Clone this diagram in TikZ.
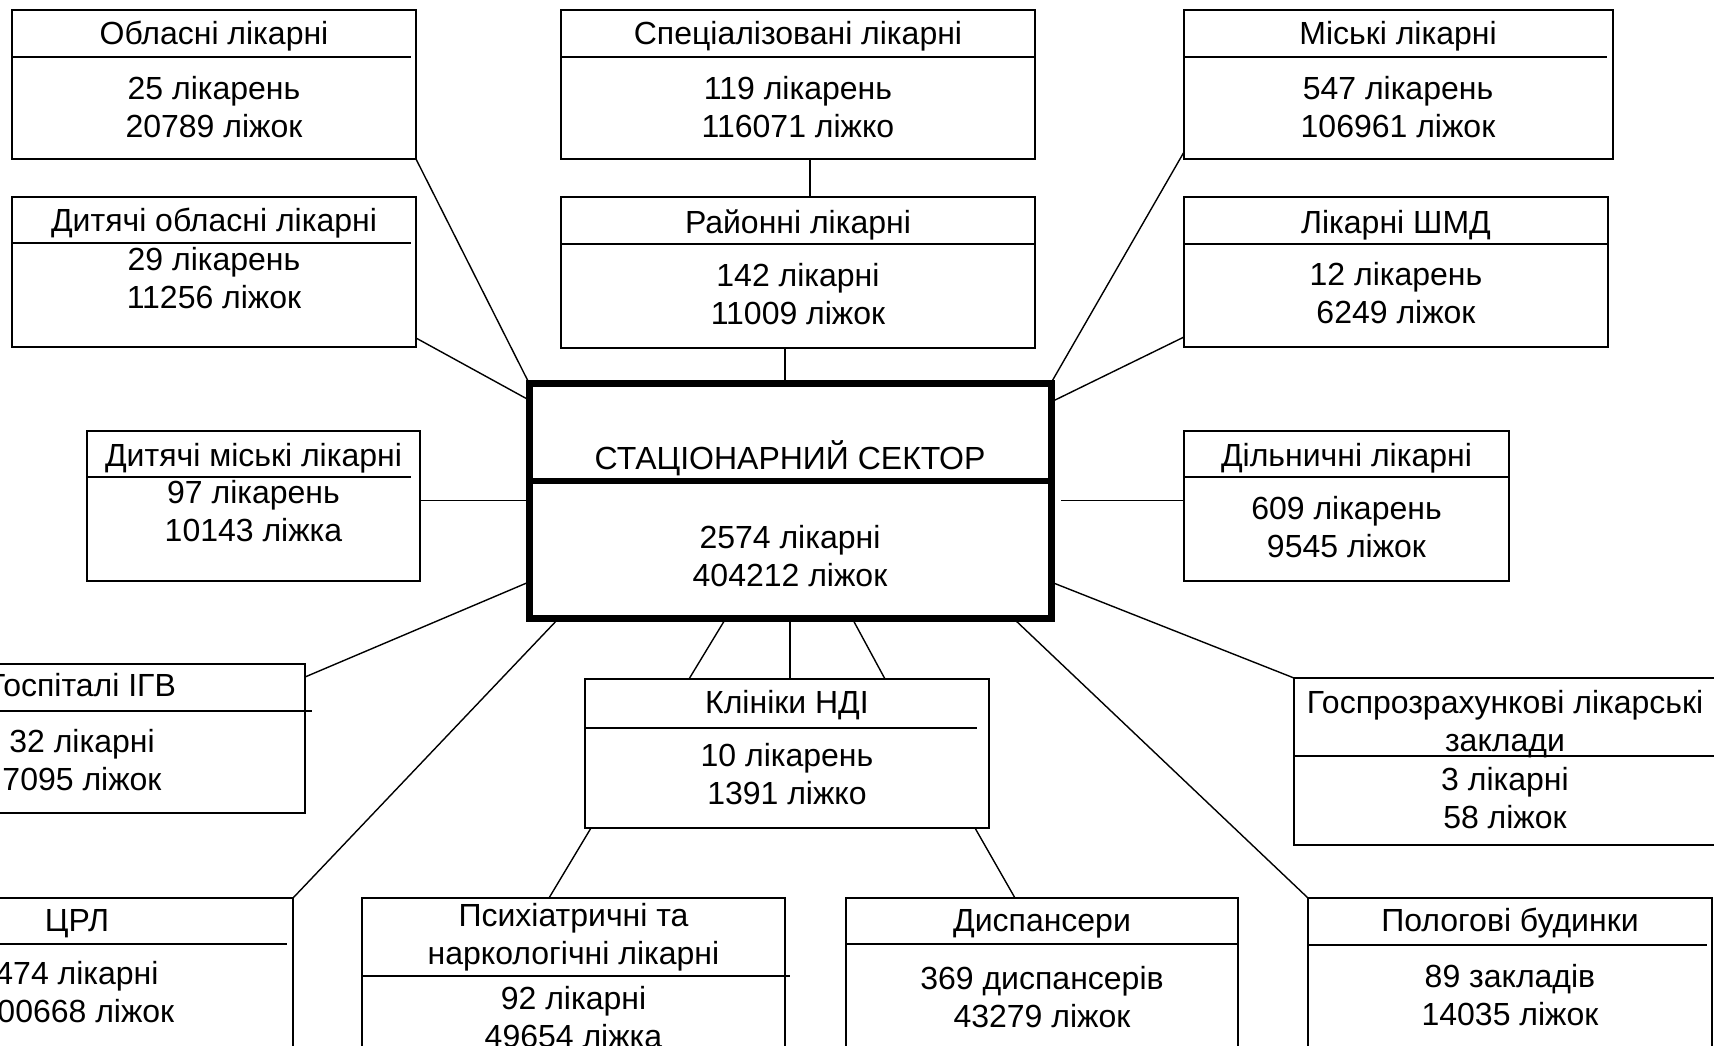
\documentclass[tikz,border=0pt]{standalone}
\usepackage{fontspec}
\setmainfont{Liberation Sans}
\tikzset{
  every picture/.style={font=\fontsize{16}{19}\selectfont},
  ward box/.style={draw, line width=1.3pt, inner sep=0pt, outer sep=0pt},
  ward hub/.style={draw, line width=3.5pt, inner sep=0pt, outer sep=0pt},
  ward rule/.style={line width=0.9pt},
  ward text/.style={anchor=base, align=center, inner sep=0pt},
  ward link/.style={line width=0.7pt}
}

\begin{document}
\begin{tikzpicture}[x=0.5pt,y=-0.5pt]
  \useasboundingbox (0,0) rectangle (1714,1045);
  \clip (0,0) rectangle (1714,1045);

  % boxes
  \node[ward box, minimum width=202pt, minimum height=74.5pt] (obl) at (214,84.5) {};
  \node[ward box, minimum width=237pt, minimum height=74.5pt] (spec) at (798,84.5) {};
  \node[ward box, minimum width=214.5pt, minimum height=74.5pt] (misk) at (1398.5,84.5) {};
  \node[ward box, minimum width=202pt, minimum height=75pt] (dobl) at (214,272) {};
  \node[ward box, minimum width=237pt, minimum height=75.5pt] (rayon) at (798,272.5) {};
  \node[ward box, minimum width=212pt, minimum height=75pt] (shmd) at (1396,272) {};
  \node[ward hub, minimum width=261pt, minimum height=117.5pt] (centre) at (790,500.5) {};
  \node[ward box, minimum width=166.5pt, minimum height=75pt] (dmisk) at (253.5,506) {};
  \node[ward box, minimum width=162.5pt, minimum height=75pt] (diln) at (1346.5,506) {};
  \node[ward box, minimum width=223pt, minimum height=74.5pt] (gosp) at (82,738.5) {};
  \node[ward box, minimum width=202pt, minimum height=74.5pt] (clin) at (787,753.5) {};
  \node[ward box, minimum width=211pt, minimum height=83.5pt] (gospr) at (1505,761.5) {};
  \node[ward box, minimum width=216pt, minimum height=111pt] (crl) at (77,1009) {};
  \node[ward box, minimum width=211.5pt, minimum height=111pt] (psych) at (573.5,1009) {};
  \node[ward box, minimum width=196pt, minimum height=111pt] (disp) at (1042,1009) {};
  \node[ward box, minimum width=202pt, minimum height=111pt] (polog) at (1510,1009) {};

  % dividers
  \draw[ward rule] (12,57) -- (411,57);
  \draw[ward rule] (561,57) -- (1035,57);
  \draw[ward rule] (1184,57) -- (1607,57);
  \draw[ward rule] (12,243) -- (411,243);
  \draw[ward rule] (561,244) -- (1035,244);
  \draw[ward rule] (1184,244) -- (1608,244);
  \draw[line width=3pt] (centre.west |- 0,481) -- (centre.east |- 0,481);
  \draw[ward rule] (87,477) -- (411,477);
  \draw[ward rule] (1184,477) -- (1509,477);
  \draw[ward rule] (-141,711) -- (312,711);
  \draw[ward rule] (585,728) -- (977,728);
  \draw[ward rule] (1294,756) -- (1716,756);
  \draw[ward rule] (-139,944) -- (287,944);
  \draw[ward rule] (362,976) -- (790,976);
  \draw[ward rule] (846,944) -- (1238,944);
  \draw[ward rule] (1308,945) -- (1707,945);

  % texts
  \node[ward text] (obl-t) at (214,44) {Обласні лікарні};
  \node[ward text] (obl-n) at (214,137) {25 лікарень\\20789 ліжок};
  \node[ward text] (spec-t) at (798,44) {Спеціалізовані лікарні};
  \node[ward text] (spec-n) at (798,137) {119 лікарень\\116071 ліжко};
  \node[ward text] (misk-t) at (1398,44) {Міські лікарні};
  \node[ward text] (misk-n) at (1398,137) {547 лікарень\\106961 ліжок};
  \node[ward text] (dobl-t) at (214,231) {Дитячі обласні лікарні};
  \node[ward text] (dobl-n) at (214,308) {29 лікарень\\11256 ліжок};
  \node[ward text] (rayon-t) at (798,233) {Районні лікарні};
  \node[ward text] (rayon-n) at (798,324) {142 лікарні\\11009 ліжок};
  \node[ward text] (shmd-t) at (1396,233) {Лікарні ШМД};
  \node[ward text] (shmd-n) at (1396,323) {12 лікарень\\6249 ліжок};
  \node[ward text] (centre-t) at (790,469) {СТАЦІОНАРНИЙ СЕКТОР};
  \node[ward text] (centre-n) at (790,586) {2574 лікарні\\404212 ліжок};
  \node[ward text] (dmisk-t) at (253.5,466) {Дитячі міські лікарні};
  \node[ward text] (dmisk-n) at (253.5,541) {97 лікарень\\10143 ліжка};
  \node[ward text] (diln-t) at (1346.5,466) {Дільничні лікарні};
  \node[ward text] (diln-n) at (1346.5,557) {609 лікарень\\9545 ліжок};
  \node[ward text] (gosp-t) at (82,696) {Госпіталі ІГВ};
  \node[ward text] (gosp-n) at (82,790) {32 лікарні\\7095 ліжок};
  \node[ward text] (clin-t) at (787,713) {Клініки НДІ};
  \node[ward text] (clin-n) at (787,804) {10 лікарень\\1391 ліжко};
  \node[ward text] (gospr-t) at (1505,751) {Госпрозрахункові лікарські\\заклади};
  \node[ward text] (gospr-n) at (1505,828) {3 лікарні\\58 ліжок};
  \node[ward text] (crl-t) at (77,931) {ЦРЛ};
  \node[ward text] (crl-n) at (77,1022) {474 лікарні\\100668 ліжок};
  \node[ward text] (psych-t) at (573.5,964) {Психіатричні та\\наркологічні лікарні};
  \node[ward text] (psych-n) at (573.5,1047) {92 лікарні\\49654 ліжка};
  \node[ward text] (disp-t) at (1042,931) {Диспансери};
  \node[ward text] (disp-n) at (1042,1027) {369 диспансерів\\43279 ліжок};
  \node[ward text] (polog-t) at (1510,931) {Пологові будинки};
  \node[ward text] (polog-n) at (1510,1025) {89 закладів\\14035 ліжок};

  % connectors
  \draw[ward link] (obl.south east) -- (centre.north west);
  \draw[ward link] ([yshift=4.5pt]dobl.south east) -- ([yshift=-8.5pt]centre.north west);
  \draw[ward link] ([xshift=6pt]spec.south) -- ([xshift=6pt]rayon.north);
  \draw[ward link] ([xshift=-6.5pt]rayon.south) -- ([xshift=-2.5pt]centre.north);
  \draw[ward link] ([yshift=3.5pt]misk.south west) -- (centre.north east);
  \draw[ward link] ([yshift=5pt]shmd.south west) -- ([yshift=-9.5pt]centre.north east);
  \draw[ward link] (centre.west) -- (dmisk.east |- centre.west);
  \draw[ward link] ([xshift=5pt]centre.east) -- (diln.west |- centre.east);
  \draw[ward link] ([yshift=18pt]centre.south west) -- ([yshift=-6.5pt]gosp.north east);
  \draw[ward link] ([xshift=15pt]centre.south west) -- (crl.north east);
  \draw[ward link] ([xshift=-32pt]centre.south) -- ([xshift=-49pt]clin.north);
  \draw[ward link] (centre.south) -- (centre.south |- clin.north);
  \draw[ward link] ([xshift=31pt]centre.south) -- ([xshift=49pt]clin.north);
  \draw[ward link] ([xshift=3pt]clin.south west) -- ([xshift=93.5pt]psych.north west);
  \draw[ward link] ([xshift=-7pt]clin.south east) -- ([xshift=-13.5pt]disp.north);
  \draw[ward link] ([xshift=-19pt]centre.south east) -- (polog.north west);
  \draw[ward link] ([yshift=18pt]centre.south east) -- (gospr.north west);
\end{tikzpicture}
\end{document}
